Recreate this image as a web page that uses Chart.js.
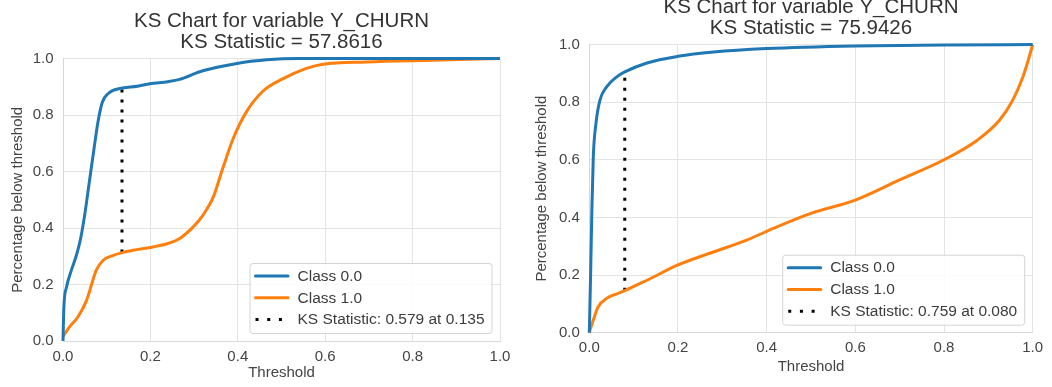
<!DOCTYPE html>
<html>
<head>
<meta charset="utf-8">
<script src="https://cdn.jsdelivr.net/npm/chart.js@4.4.0/dist/chart.umd.min.js"></script>
<style>
  html, body { margin: 0; padding: 0; background: #fff; overflow: hidden; }
  body { width: 1052px; height: 387px; position: relative; }
  canvas { position: absolute; }
  #ksLeft { left: 0; top: 0; }
  #ksRight { left: 525px; top: -4px; }
</style>
</head>
<body>
<canvas id="ksLeft" width="525" height="387"></canvas>
<canvas id="ksRight" width="527" height="391"></canvas>
<script>
// cumulative share of each class below a score threshold, first model
const leftClass0X = [0, 0.002, 0.008, 0.019, 0.03, 0.04, 0.05, 0.06, 0.07, 0.08, 0.09, 0.105, 0.13, 0.17, 0.199, 0.24, 0.267, 0.313, 0.35, 0.389, 0.43, 0.466, 0.54, 0.6, 1.0]
const leftClass0Y = [0.0, 0.12, 0.19, 0.25, 0.30, 0.36, 0.45, 0.56, 0.67, 0.775, 0.845, 0.878, 0.894, 0.902, 0.911, 0.918, 0.926, 0.953, 0.968, 0.98, 0.99, 0.996, 1.0, 1.0, 1.0]
const leftClass1X = [0, 0.015, 0.034, 0.054, 0.076, 0.092, 0.115, 0.135, 0.16, 0.206, 0.24, 0.267, 0.298, 0.32, 0.344, 0.366, 0.389, 0.42, 0.458, 0.504, 0.557, 0.595, 0.695, 0.847, 1.0]
const leftClass1Y = [0.016, 0.05, 0.085, 0.144, 0.25, 0.286, 0.303, 0.313, 0.321, 0.333, 0.345, 0.363, 0.404, 0.445, 0.51, 0.613, 0.715, 0.812, 0.885, 0.929, 0.965, 0.98, 0.988, 0.994, 1.0]

// second model
const rightClass0X = [0, 0.003, 0.006, 0.009, 0.015, 0.024, 0.039, 0.062, 0.08, 0.13, 0.2, 0.28, 0.4, 0.6, 0.8, 1.0]
const rightClass0Y = [0, 0.206, 0.437, 0.61, 0.726, 0.807, 0.853, 0.888, 0.905, 0.936, 0.959, 0.974, 0.986, 0.995, 0.998, 1.0]
const rightClass1X = [0, 0.009, 0.02, 0.039, 0.062, 0.08, 0.13, 0.2, 0.28, 0.355, 0.4, 0.5, 0.6, 0.7, 0.8, 0.875, 0.925, 0.955, 0.978, 0.99, 1.0]
const rightClass1Y = [0, 0.044, 0.09, 0.119, 0.135, 0.146, 0.182, 0.235, 0.28, 0.321, 0.352, 0.414, 0.46, 0.53, 0.6, 0.668, 0.737, 0.807, 0.888, 0.946, 1.0]

// KS results: threshold, statistic, class 1.0 level at that threshold
const ksThreshold = [0.135, 0.080]
const ksStatistic = [0.579, 0.759]
const ksClass1Level = [0.313, 0.146]
const ksTitleValue = ["57.8616", "75.9426"]

const tickValues = [0, 0.2, 0.4, 0.6, 0.8, 1.0]

const blue = "#1f77b4"
const orange = "#ff7f0e"
const fontFamily = "'Liberation Sans', Arial, sans-serif"
Chart.defaults.font.family = fontFamily
Chart.defaults.color = "#3c3c3c"

function toPoints(xs, ys) {
    return xs.map((x, i) => ({ x: x, y: ys[i] }))
}

// legend box drawn inside the plot, bottom right like matplotlib's loc="lower right"
const insideLegend = {
    id: "insideLegend",
    afterDatasetsDraw(chart) {
        const ctx = chart.ctx
        const area = chart.chartArea
        const sets = chart.data.datasets
        ctx.save()
        ctx.font = "15.5px " + fontFamily
        let maxW = 0
        sets.forEach((d) => { maxW = Math.max(maxW, ctx.measureText(d.label).width) })
        const w = 47.5 + maxW + 7.5
        const h = 70
        const right = area.right - 8
        const bottom = area.bottom - 7.5
        const left = right - w
        const top = bottom - h

        ctx.beginPath()
        ctx.roundRect(left, top, w, h, 3)
        ctx.fillStyle = "rgba(255,255,255,0.85)"
        ctx.fill()
        ctx.strokeStyle = "#d4d4d4"
        ctx.lineWidth = 1
        ctx.stroke()

        sets.forEach((d, i) => {
            const y = top + 12.5 + i * 21.8
            ctx.beginPath()
            ctx.strokeStyle = d.borderColor
            ctx.lineWidth = 3
            if (d.borderDash) {
                ctx.setLineDash([3, 8.7])
                ctx.lineCap = "butt"
            } else {
                ctx.setLineDash([])
                ctx.lineCap = "round"
            }
            ctx.moveTo(left + 5.5, y)
            ctx.lineTo(left + 38, y)
            ctx.stroke()
            ctx.setLineDash([])
            ctx.fillStyle = "#3c3c3c"
            ctx.textBaseline = "middle"
            ctx.textAlign = "left"
            ctx.fillText(d.label, left + 47.5, y + 0.5)
        })
        ctx.restore()
    },
}

function axisOptions(title, size, titlePadding, tickPadding) {
    return {
        type: "linear",
        min: 0,
        max: 1,
        afterBuildTicks(scale) {
            scale.ticks = tickValues.map((v) => ({ value: v }))
        },
        afterFit(scale) {
            if (scale.isHorizontal()) scale.height = size
            else scale.width = size
        },
        ticks: {
            padding: tickPadding,
            font: { size: 15 },
            color: "#444",
            callback: (v) => Number(v).toFixed(1),
        },
        grid: { color: "#e3e3e3", lineWidth: 1, drawTicks: false },
        border: { display: true, color: "#d8d8d8" },
        title: {
            display: true,
            text: title,
            font: { size: 15 },
            color: "#444",
            padding: titlePadding,
        },
    }
}

function makeChart(id, n, c0x, c0y, c1x, c1y, opts) {
    const ks = ksThreshold[n]
    const lo = ksClass1Level[n]
    return new Chart(document.getElementById(id), {
        type: "line",
        data: {
            datasets: [
                {
                    label: "Class 0.0",
                    data: toPoints(c0x, c0y),
                    borderColor: blue,
                    borderWidth: 3,
                    pointRadius: 0,
                    cubicInterpolationMode: "monotone",
                    clip: 4,
                },
                {
                    label: "Class 1.0",
                    data: toPoints(c1x, c1y),
                    borderColor: orange,
                    borderWidth: 3,
                    pointRadius: 0,
                    cubicInterpolationMode: "monotone",
                    clip: 4,
                },
                {
                    label: "KS Statistic: " + ksStatistic[n].toFixed(3) + " at " + ks.toFixed(3),
                    data: [{ x: ks, y: lo }, { x: ks, y: lo + ksStatistic[n] }],
                    borderColor: "#000",
                    borderWidth: 3,
                    borderDash: [3, 7],
                    borderCapStyle: "butt",
                    pointRadius: 0,
                },
            ],
        },
        options: {
            responsive: false,
            animation: false,
            layout: { padding: { left: 0, right: opts.right, top: 0, bottom: 0 } },
            plugins: {
                legend: { display: false },
                tooltip: { enabled: false },
                title: {
                    display: true,
                    fullSize: false,
                    text: ["KS Chart for variable Y_CHURN", "KS Statistic = " + ksTitleValue[n]],
                    font: { size: 20.5, weight: "normal", lineHeight: 1.025 },
                    color: "#333",
                    padding: { top: opts.titleTop, bottom: 5.5 },
                },
            },
            scales: {
                x: axisOptions("Threshold", opts.xHeight, { top: 0, bottom: opts.xTitlePad }, 6.5),
                y: axisOptions("Percentage below threshold", opts.yWidth, { top: opts.yTitlePad, bottom: 0 }, 9.5),
            },
        },
        plugins: [insideLegend],
    })
}

makeChart("ksLeft", 0, leftClass0X, leftClass0Y, leftClass1X, leftClass1Y,
    { right: 25, titleTop: 11, xHeight: 46, xTitlePad: 5, yWidth: 63, yTitlePad: 9.3 })
makeChart("ksRight", 1, rightClass0X, rightClass0Y, rightClass1X, rightClass1Y,
    { right: 19.3, titleTop: 1, xHeight: 54.3, xTitlePad: 11.3, yWidth: 64.3, yTitlePad: 7.7 })
</script>
</body>
</html>
